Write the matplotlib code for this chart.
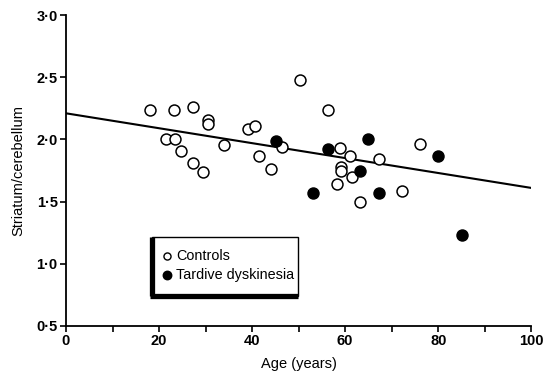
import matplotlib
matplotlib.use("Agg")
import matplotlib.pyplot as plt
from matplotlib.lines import Line2D
from matplotlib.patches import Rectangle

plt.rcParams['font.family'] = ['Liberation Sans', 'DejaVu Sans']

# Data
control_age = [18.0, 23.2, 27.3, 30.5, 30.5, 21.5, 23.4, 24.7, 27.3, 29.4,
               33.9, 39.1, 40.6, 41.4, 44.0, 46.5, 50.2, 56.2, 58.8, 61.0,
               59.0, 59.0, 58.2, 61.4, 67.2, 63.1, 72.3, 76.0]
control_ratio = [2.24, 2.24, 2.26, 2.16, 2.12, 2.00, 2.00, 1.91, 1.81, 1.74,
                 1.955, 2.08, 2.11, 1.87, 1.76, 1.94, 2.48, 2.24, 1.93, 1.87,
                 1.78, 1.75, 1.64, 1.70, 1.84, 1.50, 1.585, 1.96]
td_age = [45.1, 56.2, 64.8, 63.1, 53.0, 67.2, 80.0, 85.0]
td_ratio = [1.99, 1.92, 2.00, 1.75, 1.57, 1.57, 1.87, 1.23]

fit_x = [0, 100]
fit_y = [2.21, 1.61]

xticks = [0, 20, 40, 60, 80, 100]
yticks = [0.5, 1.0, 1.5, 2.0, 2.5, 3.0]
ytick_labels = ['0·5', '1·0', '1·5', '2·0', '2·5', '3·0']

fig = plt.figure(figsize=(5.43, 3.76), dpi=100)
ax = fig.add_axes([0.1215, 0.133, 0.857, 0.827])

ax.plot(fit_x, fit_y, color='black', lw=1.5, zorder=2)
ax.scatter(control_age, control_ratio, s=62, facecolors='white',
           edgecolors='black', linewidths=1.1, zorder=3, label='Controls')
ax.scatter(td_age, td_ratio, s=62, facecolors='black',
           edgecolors='black', linewidths=1.1, zorder=3, label='Tardive dyskinesia')

ax.set_xlim(0, 100)
ax.set_ylim(0.5, 3.0)
ax.set_xticks(xticks)
ax.set_xticks(range(0, 101, 10), minor=True)
ax.set_xticklabels([str(t) for t in xticks], fontweight='bold', fontsize=10.5)
ax.set_yticks(yticks)
ax.set_yticklabels(ytick_labels, fontweight='bold', fontsize=10.5)
ax.tick_params(axis='both', direction='out', length=4, width=1.2, pad=2)
ax.tick_params(axis='x', which='minor', direction='out', length=4, width=1.2)

for s in ['top', 'right']:
    ax.spines[s].set_visible(False)
for s in ['left', 'bottom']:
    ax.spines[s].set_linewidth(1.3)

ax.set_xlabel('Age (years)', fontsize=10.5, labelpad=6)
ax.set_ylabel('Striatum/cerebellum', fontsize=10.5, labelpad=8)

# Legend box (frame drawn separately: thin top/right, thick left/bottom)
bx0, bx1, by0, by1 = 0.185, 0.499, 0.096, 0.286
ax.add_patch(Rectangle((bx0, by0), bx1 - bx0, by1 - by0, transform=ax.transAxes,
                       facecolor='white', edgecolor='black', lw=1.0, zorder=4,
                       clip_on=False))
ax.add_line(Line2D([bx0, bx0], [by0, by1], transform=ax.transAxes, color='black',
                   lw=3.8, zorder=5, clip_on=False, solid_capstyle='butt'))
ax.add_line(Line2D([bx0 - 0.004, bx1], [by0, by0], transform=ax.transAxes,
                   color='black', lw=3.8, zorder=5, clip_on=False,
                   solid_capstyle='butt'))

leg = ax.legend(loc='center left', bbox_to_anchor=(0.208, 0.1945),
                frameon=False, fontsize=10.4, handletextpad=0.3,
                handlelength=0.6, borderpad=0, labelspacing=0.32,
                borderaxespad=0)
leg.set_zorder(6)
hs = leg.legend_handles
hs[0].set_sizes([26])
hs[0].set_linewidths(1.0)
hs[1].set_sizes([36])

fig.savefig('out.png', dpi=100)
